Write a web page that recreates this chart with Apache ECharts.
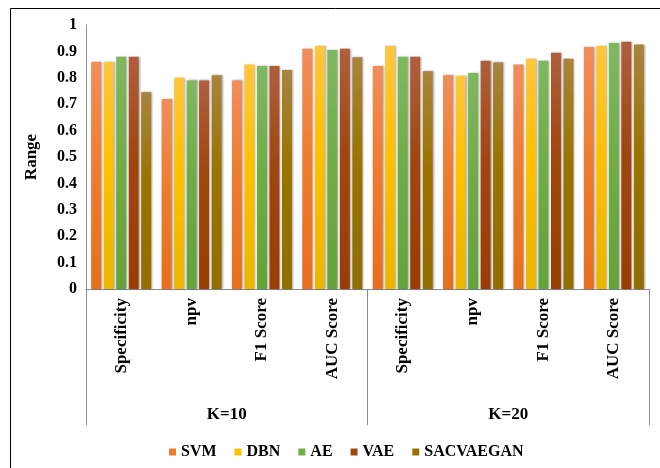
<!DOCTYPE html>
<html>
<head>
<meta charset="utf-8">
<script src="https://cdn.jsdelivr.net/npm/echarts@6/dist/echarts.min.js"></script>
<style>
html,body{margin:0;padding:0;background:#fff;}
#chart{width:660px;height:468px;}
</style>
</head>
<body>
<div id="chart"></div>
<script>
var categories = ['Specificity','npv','F1 Score','AUC Score','Specificity','npv','F1 Score','AUC Score'];
var groups = ['K=10','K=20'];
var seriesNames = ['SVM','DBN','AE','VAE','SACVAEGAN'];
var svm = [0.86, 0.72, 0.79, 0.91, 0.845, 0.81, 0.85, 0.917];
var dbn = [0.86, 0.80, 0.85, 0.92, 0.92, 0.808, 0.872, 0.92];
var ae = [0.88, 0.79, 0.845, 0.905, 0.88, 0.818, 0.865, 0.932];
var vae = [0.88, 0.79, 0.845, 0.91, 0.88, 0.865, 0.895, 0.937];
var sacvaegan = [0.745, 0.81, 0.83, 0.878, 0.825, 0.858, 0.872, 0.926];
var yTicks = [0, 0.1, 0.2, 0.3, 0.4, 0.5, 0.6, 0.7, 0.8, 0.9, 1];

var allData = [svm, dbn, ae, vae, sacvaegan];
var colors = [
  ['#F28D5C', '#ED7D31', '#E86E1E'],
  ['#FFC63F', '#FFC000', '#EBB500'],
  ['#80B860', '#70AD47', '#62A33A'],
  ['#AE5F3C', '#A0460F', '#9A3D04'],
  ['#A8843E', '#9A7300', '#926D00']
];
var legendColors = ['#ED7D31', '#FFC000', '#70AD47', '#9E480E', '#997300'];
var serif = '"Liberation Serif","Times New Roman",serif';

var chart = echarts.init(document.getElementById('chart'));
var series = seriesNames.map(function (n, i) {
  return {
    name: n,
    type: 'bar',
    xAxisIndex: 0,
    data: allData[i],
    barWidth: 10,
    barGap: '25%',
    itemStyle: {
      color: new echarts.graphic.LinearGradient(0, 0, 0, 1, [
        {offset: 0, color: colors[i][0]},
        {offset: 0.45, color: colors[i][1]},
        {offset: 1, color: colors[i][2]}
      ]),
      shadowColor: 'rgba(0,0,0,0.35)',
      shadowBlur: 2,
      shadowOffsetX: 1,
      shadowOffsetY: 0
    }
  };
});

chart.setOption({
  animation: false,
  color: legendColors,
  graphic: [{
    type: 'rect',
    shape: {x: 10.5, y: 8.5, width: 700, height: 500},
    style: {fill: 'none', stroke: '#000', lineWidth: 1},
    silent: true
  }],
  grid: {left: 86, right: 11, top: 25, bottom: 179, containLabel: false},
  legend: {
    data: seriesNames.map(function (n, i) { return {name: n, itemStyle: {color: legendColors[i]}}; }),
    left: 164,
    top: 439,
    icon: 'rect',
    itemWidth: 7,
    itemHeight: 7,
    itemGap: 18,
    textStyle: {fontFamily: serif, fontWeight: 'bold', fontSize: 16, color: '#000'}
  },
  xAxis: [{
    type: 'category',
    data: categories,
    position: 'bottom',
    axisLine: {show: true, lineStyle: {color: '#8c8c8c', width: 1}},
    axisTick: {show: false},
    axisLabel: {
      rotate: 90,
      interval: 0,
      margin: 9,
      fontFamily: serif,
      fontWeight: 'bold',
      fontSize: 17,
      color: '#000'
    }
  }, {
    type: 'category',
    data: groups,
    position: 'bottom',
    axisLine: {show: false},
    axisTick: {show: true, length: 136, interval: 0, lineStyle: {color: '#8c8c8c', width: 1}},
    axisLabel: {
      margin: 117,
      fontFamily: serif,
      fontWeight: 'bold',
      fontSize: 17,
      color: '#000'
    }
  }],
  yAxis: {
    type: 'value',
    min: yTicks[0],
    max: yTicks[yTicks.length - 1],
    interval: 0.1,
    name: 'Range',
    nameLocation: 'middle',
    nameGap: 46,
    nameTextStyle: {fontFamily: serif, fontWeight: 'bold', fontSize: 17, color: '#000'},
    axisLine: {show: true, lineStyle: {color: '#8c8c8c', width: 1}},
    axisTick: {show: false},
    splitLine: {show: false},
    axisLabel: {
      margin: 9,
      fontFamily: serif,
      fontWeight: 'bold',
      fontSize: 16,
      color: '#000',
      formatter: function (v) { return String(Math.round(v * 10) / 10); }
    }
  },
  series: series
});
</script>
</body>
</html>
